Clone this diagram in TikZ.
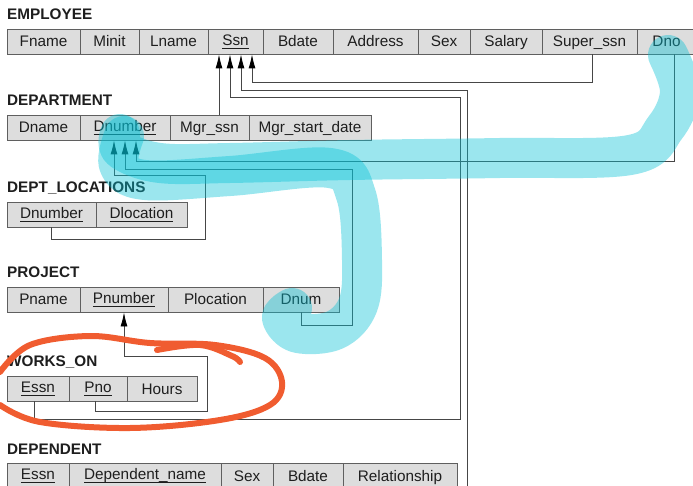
\documentclass[tikz,border=0pt]{standalone}
\usepackage{fontspec}
\setmainfont{Liberation Sans}
\usetikzlibrary{arrows.meta}
\definecolor{cellgray}{RGB}{221,221,221}
\definecolor{rulegray}{RGB}{95,95,95}
\definecolor{linegray}{RGB}{70,70,70}
\definecolor{inkdark}{RGB}{30,30,30}
\definecolor{hlcyan}{RGB}{5,193,213}
\definecolor{hlorange}{RGB}{240,92,48}
% key attribute: raised a bit and underlined
\newcommand{\pk}[1]{\raisebox{1.3pt}{\setbox0\hbox{#1}\rlap{\rule[-3pt]{\wd0}{0.9pt}}\box0}}

\begin{document}
\begin{tikzpicture}[x=1pt,y=-1pt,
  cell/.style={draw=rulegray,fill=cellgray,line width=0.9pt,minimum height=25pt,inner sep=0pt,
    text height=11pt,text depth=0pt,text=inkdark,font=\fontsize{15.3}{18}\selectfont},
  title/.style={anchor=base west,inner sep=0pt,text=inkdark,font=\bfseries\fontsize{15.3}{18}\selectfont},
  fk/.style={draw=linegray,line width=0.9pt,-{Latex[length=14pt,width=7pt,color=black]}},
  marker/.style={draw=hlcyan,draw opacity=0.4,line width=40pt,line cap=round,line join=round},
  pen/.style={draw=hlorange,line width=6pt,line cap=round,line join=round}]
\useasboundingbox (0,0) rectangle (693,486);

% relation names
\node[title] (t-emp) at (7,19.5) {EMPLOYEE};
\node[title] (t-dep) at (7,106) {DEPARTMENT};
\node[title] (t-loc) at (7,192.7) {DEPT\_LOCATIONS};
\node[title] (t-prj) at (7,277.7) {PROJECT};
\node[title] (t-won) at (7,366) {WORKS\_ON};
\node[title] (t-dpn) at (7,454) {DEPENDENT};

% attributes
\foreach \n/\a/\b/\t in {fname/7/80/Fname, minit/80/139/Minit, lname/139/208/Lname, ssn/208/263/\pk{Ssn},
    bdate/263/333/Bdate, address/333/418/Address, sex/418/470/Sex, salary/470/542/Salary,
    superssn/542/637/Super\_ssn, dno/637/696/Dno}
  \node[cell,minimum width={(\b-\a)*1pt}] (e-\n) at ({(\a+\b)/2},41.5) {\t};
\foreach \n/\a/\b/\t in {dname/7/80/Dname, dnumber/80/170/\pk{Dnumber}, mgrssn/170/249/Mgr\_ssn,
    mgrdate/249/371/Mgr\_start\_date}
  \node[cell,minimum width={(\b-\a)*1pt}] (d-\n) at ({(\a+\b)/2},127.5) {\t};
\foreach \n/\a/\b/\t in {dnumber/7/96/\pk{Dnumber}, dlocation/96/187/\pk{Dlocation}}
  \node[cell,minimum width={(\b-\a)*1pt}] (l-\n) at ({(\a+\b)/2},214.5) {\t};
\foreach \n/\a/\b/\t in {pname/7/80/Pname, pnumber/80/168/\pk{Pnumber}, plocation/168/263/Plocation,
    dnum/263/339/Dnum}
  \node[cell,minimum width={(\b-\a)*1pt}] (p-\n) at ({(\a+\b)/2},299.5) {\t};
\foreach \n/\a/\b/\t in {essn/7/69/\pk{Essn}, pno/69/127/\pk{Pno}, hours/127/197/Hours}
  \node[cell,minimum width={(\b-\a)*1pt}] (w-\n) at ({(\a+\b)/2},388.5) {\t};
\foreach \n/\a/\b/\t in {essn/7/69/\pk{Essn}, depname/69/221/\pk{Dependent\_name}, sex/221/273/Sex,
    bdate/273/343/Bdate, relation/343/457/Relationship}
  \node[cell,minimum width={(\b-\a)*1pt}] (dp-\n) at ({(\a+\b)/2},475.5) {\t};

% arrow ends
\coordinate (a1) at ([xshift=-16.5pt]e-ssn.south);
\coordinate (a2) at ([xshift=-5.5pt]e-ssn.south);
\coordinate (a3) at ([xshift=5.5pt]e-ssn.south);
\coordinate (a4) at ([xshift=16.5pt]e-ssn.south);
\coordinate (b1) at ([xshift=-11pt]d-dnumber.south);
\coordinate (b2) at (d-dnumber.south);
\coordinate (b3) at ([xshift=11pt]d-dnumber.south);

% foreign keys
\draw[fk] (d-mgrssn.north -| a1) -- (a1);
\draw[fk] ([xshift=2.5pt]e-superssn.south) -- ++(0,28) -| (a4);
\draw[fk] (dp-essn.south) -- ++(0,12) -| (467,90) -| (a3);
\draw[fk] ([xshift=-4pt]w-essn.south) |- (460,419) -- (460,97.5) -| (a2);
\draw[fk] ([xshift=7.5pt]e-dno.south) |- (136,161) -- (b3);
\draw[fk] (p-dnum.south) |- (352,325) -- (352,169) -| (b2);
\draw[fk] (l-dnumber.south) |- (205,239) -- (205,175) -| (b1);
\draw[fk] ([xshift=-3pt]w-pno.south) |- (207,411.5) -- (207,356) -| (p-pnumber.south);

% highlighter strokes
\draw[marker] plot[smooth,tension=0.6] coordinates {(668,55) (680,92) (665,128) (630,155) (500,158)
  (350,160) (230,163) (160,163) (122,150) (120,134)};
\draw[marker] plot[smooth,tension=0.6] coordinates {(124,136) (119,165) (145,180) (230,176) (330,168)
  (356,195) (362,260) (358,305) (335,330) (298,333) (282,318) (292,308)};
\draw[pen] plot[smooth,tension=0.6] coordinates {(0,372) (30,345) (90,336) (150,343) (215,345)
  (265,358) (282,382) (270,405) (220,420) (130,428) (40,422) (0,405)};
\draw[pen] plot[smooth,tension=0.6] coordinates {(157,350) (200,345) (232,356) (240,362)};
\end{tikzpicture}
\end{document}
